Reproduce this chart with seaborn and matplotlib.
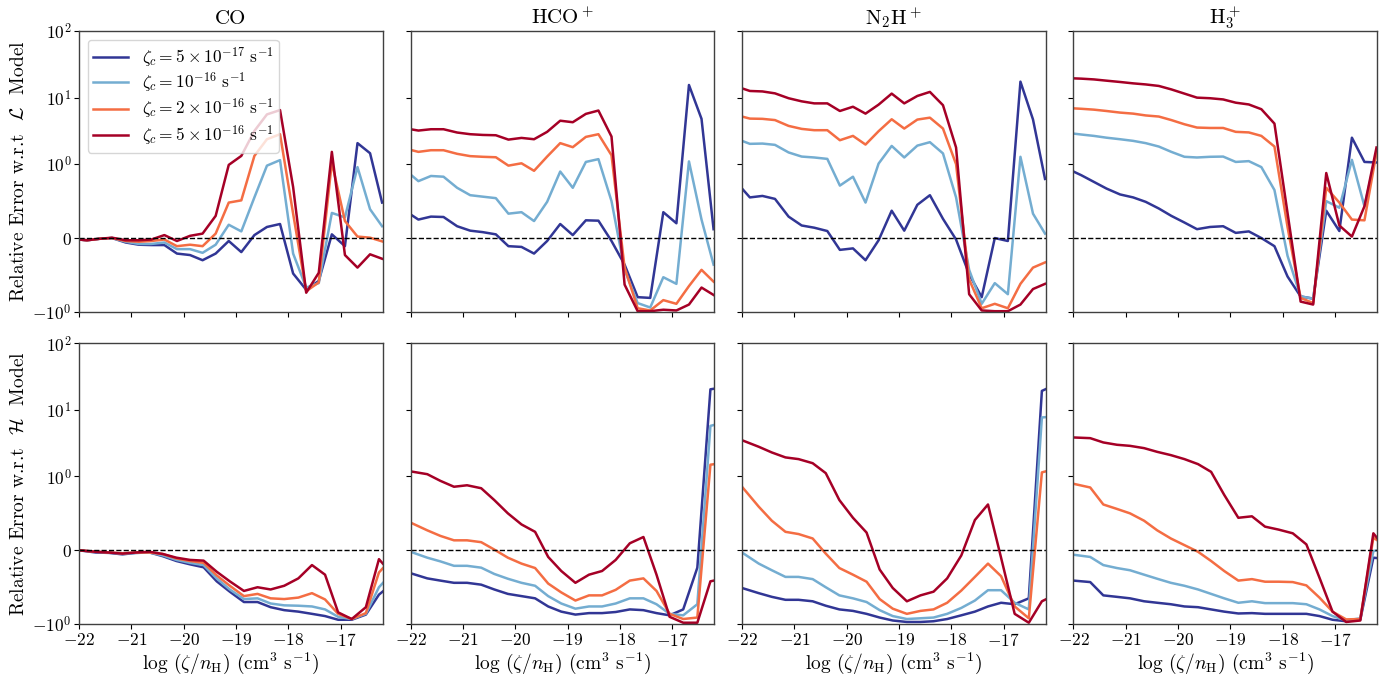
import numpy as np
import pandas as pd
import matplotlib
matplotlib.use("Agg")
import matplotlib.pyplot as plt
import seaborn as sns
from matplotlib.ticker import NullLocator, FixedLocator

plt.rcParams.update({
    "font.family": "serif",
    "font.serif": ["cmr10"],
    "mathtext.fontset": "cm",
    "axes.formatter.use_mathtext": True,
    "axes.edgecolor": "0.25",
    "axes.linewidth": 1.0,
})

# ---------------- data ----------------
species = ["CO", r"HCO$^+$", r"N$_2$H$^+$", r"H$_3^+$"]
zeta_labels = [r"$\zeta_c = 5\times10^{-17}\ \mathrm{s}^{-1}$",
               r"$\zeta_c = 10^{-16}\ \mathrm{s}^{-1}$",
               r"$\zeta_c = 2\times10^{-16}\ \mathrm{s}^{-1}$",
               r"$\zeta_c = 5\times10^{-16}\ \mathrm{s}^{-1}$"]
colors = ["#313695", "#74add1", "#f46d43", "#a50026"]
row_labels = [r"Relative Error w.r.t  $\mathcal{L}$  Model",
              r"Relative Error w.r.t  $\mathcal{H}$  Model"]
xticks = [-22, -21, -20, -19, -18, -17]
yticks = [-1, 0, 1, 10, 100]

x_L = [-22.0, -21.85, -21.61, -21.37, -21.11, -20.86, -20.62, -20.37, -20.13,
       -19.88, -19.64, -19.39, -19.14, -18.90, -18.65, -18.41, -18.16, -17.91,
       -17.66, -17.42, -17.17, -16.92, -16.68, -16.44, -16.21]
x_H = [-22.0, -21.68, -21.43, -21.17, -20.92, -20.65, -20.40, -20.14, -19.88,
       -19.62, -19.37, -19.12, -18.85, -18.59, -18.34, -18.08, -17.81, -17.55,
       -17.30, -17.05, -16.79, -16.52, -16.27, -16.01]

# CO, L model
co_L_a = [-0.02, -0.03, -0.01, 0.0, -0.06, -0.09, -0.095, -0.095, -0.21, -0.23, -0.30, -0.21, -0.04,
          -0.19, 0.04, 0.15, 0.19, -0.48, -0.70, -0.58, 0.05, -0.11, 2.07, 1.46, 0.48]
co_L_b = [-0.02, -0.03, -0.01, 0.0, -0.05, -0.08, -0.08, -0.06, -0.15, -0.15, -0.20, -0.09, 0.18,
          0.09, 0.55, 0.98, 1.15, -0.21, -0.67, -0.61, 0.34, 0.28, 0.96, 0.39, 0.16]
co_L_c = [-0.02, -0.03, -0.01, 0.0, -0.04, -0.05, -0.04, -0.02, -0.11, -0.09, -0.11, 0.06, 0.48,
          0.51, 1.33, 2.37, 2.82, 0.33, -0.72, -0.60, 1.06, 0.23, 0.02, 0.005, -0.045]
co_L_d = [-0.02, -0.03, -0.01, 0.005, -0.03, -0.03, -0.02, 0.04, -0.04, 0.03, 0.06, 0.30, 0.99,
          1.33, 3.16, 5.6, 6.5, 0.69, -0.74, -0.47, 1.53, -0.23, -0.40, -0.22, -0.28]
# HCO+, L model
hco_L_a = [0.32, 0.25, 0.29, 0.285, 0.16, 0.10, 0.08, 0.05, -0.11, -0.12, -0.21, -0.04, 0.19, 0.04,
           0.24, 0.235, -0.04, -0.36, -0.80, -0.81, 0.35, 0.20, 15.5, 4.8, 0.12]
hco_L_b = [0.86, 0.77, 0.84, 0.83, 0.68, 0.58, 0.56, 0.54, 0.33, 0.35, 0.23, 0.49, 0.9, 0.68, 1.08,
           1.19, 0.50, -0.43, -0.88, -0.94, -0.53, -0.62, 1.10, 0.25, -0.36]
hco_L_c = [1.64, 1.53, 1.62, 1.62, 1.43, 1.32, 1.29, 1.27, 0.98, 1.03, 0.91, 1.30, 2.07, 1.80, 2.57,
           2.82, 1.36, -0.40, -0.95, -0.98, -0.84, -0.89, -0.65, -0.43, -0.59]
hco_L_d = [3.35, 3.2, 3.35, 3.35, 2.99, 2.82, 2.75, 2.72, 2.34, 2.48, 2.37, 3.06, 4.5, 4.27, 5.7,
           6.4, 2.6, -0.63, -0.99, -0.99, -0.97, -0.98, -0.90, -0.67, -0.77]
# N2H+, L model
n2h_L_a = [0.67, 0.55, 0.57, 0.53, 0.29, 0.17, 0.14, 0.095, -0.16, -0.14, -0.30, -0.03, 0.37, 0.10,
           0.45, 0.58, 0.26, -0.02, -0.49, -0.80, 0.0, -0.04, 17.4, 4.7, 0.80]
n2h_L_b = [2.24, 2.02, 2.04, 1.95, 1.50, 1.30, 1.26, 1.20, 0.71, 0.83, 0.48, 1.02, 1.88, 1.26, 1.9,
           2.14, 1.45, 0.55, -0.43, -0.89, -0.61, -0.76, 1.29, 0.33, 0.06]
n2h_L_c = [5.2, 4.84, 4.8, 4.6, 3.76, 3.39, 3.24, 3.24, 2.29, 2.66, 1.97, 3.13, 4.73, 3.43, 4.68,
           5.0, 3.43, 1.0, -0.56, -0.95, -0.89, -0.95, -0.62, -0.40, -0.33]
n2h_L_d = [13.8, 12.6, 12.4, 11.6, 9.8, 8.8, 8.2, 8.2, 6.3, 7.3, 5.75, 7.85, 11.5, 8.2, 10.6, 12.2,
           7.7, 1.78, -0.76, -0.98, -0.99, -0.99, -0.90, -0.69, -0.62]
# H3+, L model
h3_L_a = [0.90, 0.85, 0.76, 0.67, 0.59, 0.55, 0.49, 0.40, 0.30, 0.21, 0.12, 0.15, 0.16, 0.07, 0.09,
          0.0, -0.11, -0.52, -0.79, -0.82, 0.37, 0.095, 2.5, 1.08, 1.06]
h3_L_b = [2.88, 2.79, 2.66, 2.5, 2.37, 2.24, 2.07, 1.84, 1.53, 1.29, 1.26, 1.29, 1.30, 1.08, 1.11,
          0.96, 0.65, -0.24, -0.79, -0.82, 0.50, 0.41, 1.16, 0.43, 1.5]
h3_L_c = [6.9, 6.8, 6.6, 6.3, 5.96, 5.75, 5.4, 5.2, 4.6, 3.98, 3.55, 3.5, 3.5, 3.06, 3.0, 2.66, 1.84,
          0.15, -0.81, -0.88, 0.68, 0.48, 0.25, 0.24, 1.5]
h3_L_d = [19.5, 19.3, 18.8, 18.0, 17.2, 16.4, 15.8, 15.0, 13.3, 11.5, 10.0, 9.8, 9.4, 8.4, 7.9, 6.7,
          4.07, 0.34, -0.86, -0.90, 0.88, 0.17, 0.02, 0.43, 1.78]

# CO, H model
co_H_a = [0.0, -0.03, -0.035, -0.055, -0.035, -0.03, -0.08, -0.145, -0.19, -0.23, -0.42, -0.56,
          -0.70, -0.70, -0.77, -0.81, -0.83, -0.86, -0.89, -0.94, -0.94, -0.87, -0.60, -0.45]
co_H_b = [0.0, -0.02, -0.03, -0.05, -0.035, -0.03, -0.07, -0.13, -0.17, -0.20, -0.38, -0.53, -0.66,
          -0.65, -0.72, -0.745, -0.75, -0.76, -0.80, -0.90, -0.93, -0.86, -0.50, -0.30]
co_H_c = [0.0, -0.02, -0.03, -0.04, -0.03, -0.03, -0.05, -0.11, -0.145, -0.17, -0.34, -0.48, -0.62,
          -0.59, -0.65, -0.66, -0.64, -0.58, -0.665, -0.86, -0.93, -0.85, -0.30, -0.10]
co_H_d = [0.0, -0.02, -0.03, -0.045, -0.03, -0.02, -0.05, -0.10, -0.13, -0.14, -0.29, -0.42, -0.55,
          -0.50, -0.53, -0.48, -0.38, -0.20, -0.33, -0.84, -0.93, -0.77, -0.12, -0.33]
# HCO+, H model
hco_H_a = [-0.31, -0.38, -0.41, -0.44, -0.44, -0.465, -0.53, -0.59, -0.62, -0.65, -0.76, -0.83,
           -0.87, -0.85, -0.85, -0.835, -0.80, -0.81, -0.85, -0.88, -0.80, -0.235, 20.4, 22.0]
hco_H_b = [-0.02, -0.10, -0.15, -0.21, -0.21, -0.235, -0.32, -0.385, -0.44, -0.48, -0.62, -0.72,
           -0.79, -0.76, -0.76, -0.72, -0.65, -0.65, -0.73, -0.86, -0.88, -0.73, 5.75, 6.5]
hco_H_c = [0.375, 0.27, 0.195, 0.135, 0.135, 0.11, 0.01, -0.10, -0.18, -0.24, -0.45, -0.57, -0.68,
           -0.61, -0.61, -0.535, -0.41, -0.38, -0.55, -0.86, -0.93, -0.91, 1.50, 1.6]
hco_H_d = [1.19, 1.08, 0.94, 0.86, 0.88, 0.84, 0.68, 0.50, 0.35, 0.25, -0.09, -0.28, -0.44, -0.33,
           -0.28, -0.13, 0.095, 0.18, -0.33, -0.90, -0.98, -0.98, -0.42, -0.38]
# N2H+, H model
n2h_H_a = [-0.51, -0.58, -0.63, -0.67, -0.67, -0.69, -0.75, -0.80, -0.82, -0.86, -0.91, -0.95,
           -0.97, -0.97, -0.96, -0.93, -0.88, -0.83, -0.76, -0.71, -0.73, -0.65, 19.3, 24.0]
n2h_H_b = [-0.03, -0.18, -0.27, -0.36, -0.36, -0.39, -0.50, -0.61, -0.65, -0.70, -0.81, -0.89,
           -0.93, -0.92, -0.91, -0.86, -0.78, -0.68, -0.54, -0.54, -0.71, -0.80, 7.7, 8.0]
n2h_H_c = [0.86, 0.59, 0.40, 0.25, 0.22, 0.16, -0.045, -0.24, -0.33, -0.425, -0.66, -0.79, -0.86,
           -0.82, -0.80, -0.71, -0.545, -0.36, -0.18, -0.35, -0.76, -0.92, 1.15, 1.3]
n2h_H_d = [3.5, 2.79, 2.29, 1.93, 1.82, 1.58, 1.12, 0.68, 0.44, 0.24, -0.26, -0.51, -0.69, -0.61,
           -0.56, -0.38, -0.07, 0.41, 0.62, -0.10, -0.86, -0.98, -0.69, -0.60]
# H3+, H model
h3_H_a = [-0.41, -0.43, -0.61, -0.63, -0.65, -0.69, -0.71, -0.73, -0.76, -0.77, -0.80, -0.83,
          -0.855, -0.85, -0.86, -0.86, -0.86, -0.86, -0.89, -0.94, -0.96, -0.94, -0.10, -0.12]
h3_H_b = [-0.06, -0.09, -0.20, -0.24, -0.27, -0.33, -0.385, -0.44, -0.48, -0.53, -0.59, -0.65,
          -0.71, -0.69, -0.715, -0.715, -0.715, -0.73, -0.80, -0.89, -0.95, -0.92, -0.01, 0.02]
h3_H_c = [0.90, 0.85, 0.62, 0.56, 0.50, 0.40, 0.27, 0.16, 0.07, -0.02, -0.145, -0.28, -0.41, -0.39,
          -0.425, -0.425, -0.43, -0.475, -0.64, -0.83, -0.935, -0.93, 0.17, 0.05]
h3_H_d = [3.85, 3.76, 3.24, 2.99, 2.88, 2.66, 2.34, 2.09, 1.82, 1.53, 1.17, 0.75, 0.44, 0.46, 0.32,
          0.28, 0.23, 0.08, -0.37, -0.83, -0.97, -0.95, 0.23, 0.0]

panels = [
    [(co_L_a, co_L_b, co_L_c, co_L_d), (hco_L_a, hco_L_b, hco_L_c, hco_L_d),
     (n2h_L_a, n2h_L_b, n2h_L_c, n2h_L_d), (h3_L_a, h3_L_b, h3_L_c, h3_L_d)],
    [(co_H_a, co_H_b, co_H_c, co_H_d), (hco_H_a, hco_H_b, hco_H_c, hco_H_d),
     (n2h_H_a, n2h_H_b, n2h_H_c, n2h_H_d), (h3_H_a, h3_H_b, h3_H_c, h3_H_d)],
]
xgrids = [x_L, x_H]

# ---------------- plot ----------------
fig, axes = plt.subplots(2, 4, figsize=(13.97, 6.77), dpi=100, sharex=True, sharey=True)
fig.subplots_adjust(left=0.0566, right=0.9857, top=0.954, bottom=0.078,
                    wspace=0.092, hspace=0.112)

for r in range(2):
    xg = xgrids[r]
    for c in range(4):
        ax = axes[r, c]
        series = panels[r][c]
        df = pd.DataFrame({
            "x": np.tile(xg, 4),
            "y": np.concatenate([np.asarray(s, float) for s in series]),
            "zeta": np.repeat(zeta_labels, len(xg)),
        })
        sns.lineplot(data=df, x="x", y="y", hue="zeta", hue_order=zeta_labels,
                     palette=colors, estimator=None, sort=False, lw=1.8,
                     ax=ax, legend=False)
        ax.set_yscale("symlog", linthresh=1)
        if r == 0 and c == 0:
            hs = ax.get_lines()[:4]
            ax.legend(hs, zeta_labels, loc="upper left", fontsize=12.5,
                      framealpha=0.8, handlelength=2.0, labelspacing=0.12,
                      borderpad=0.3)
        ax.axhline(0, color="k", ls="--", lw=1.0)
        ax.set_xlim(-22, -16.2)
        ax.set_ylim(-1, 100)
        ax.yaxis.set_major_locator(FixedLocator(yticks))
        ax.yaxis.set_minor_locator(NullLocator())
        ax.xaxis.set_major_locator(FixedLocator(xticks))
        ax.xaxis.set_minor_locator(NullLocator())
        ax.tick_params(labelsize=12.5, color="k", pad=2)
        ax.set_xlabel("")
        ax.set_ylabel("")
        if r == 0:
            ax.set_title(species[c], fontsize=15, pad=5)
        if r == 1:
            ax.set_xlabel(r"log $(\zeta/n_{\rm H})$ (cm$^3$ s$^{-1}$)", fontsize=14,
                          labelpad=1)
        if c == 0:
            ax.set_ylabel(row_labels[r], fontsize=14, labelpad=3)

fig.savefig("out.png", dpi=100)
